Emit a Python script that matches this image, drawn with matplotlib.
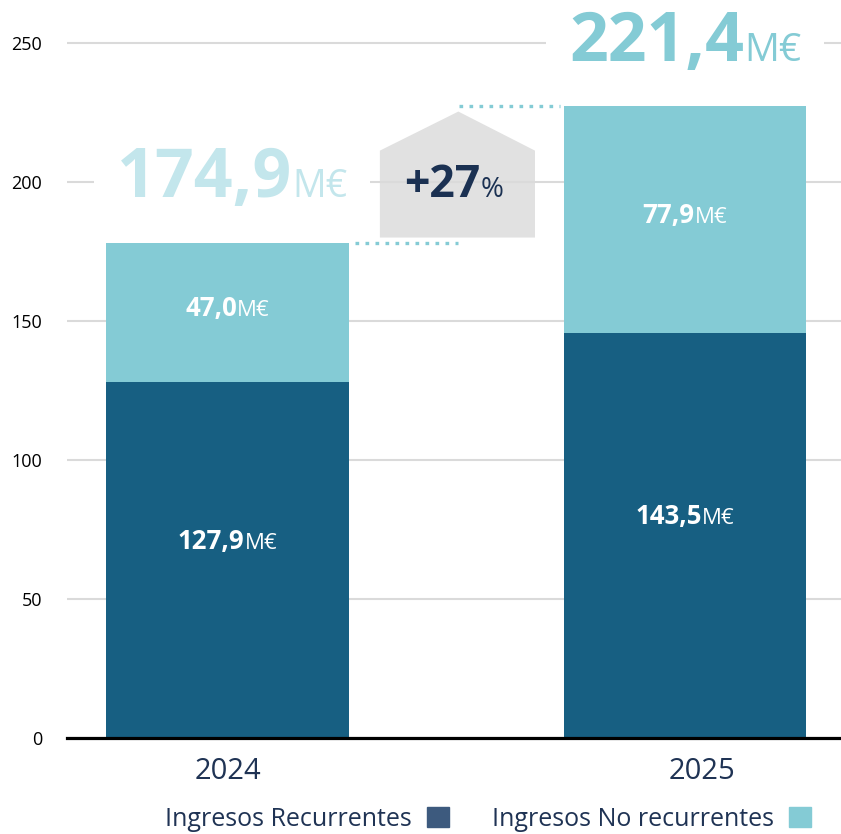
import matplotlib
matplotlib.use('Agg')
import matplotlib.pyplot as plt
from matplotlib.patches import Polygon, Rectangle, Patch
from matplotlib.transforms import Bbox, IdentityTransform, ScaledTranslation

plt.rcParams['font.family'] = ['Open Sans', 'DejaVu Sans']

# data
years = ['2024', '2025']
recurrentes = [128.0, 145.6]
no_recurrentes = [49.9, 81.6]
lbl_rec = ['127,9', '143,5']
lbl_norec = ['47,0', '77,9']
lbl_total = ['174,9', '221,4']
growth = '+27'

DARK = '#175F82'
LIGHT = '#84CBD5'
NAVY = '#1B3152'
PALE = '#C3E6EC'

fig = plt.figure(figsize=(8.41, 8.34), dpi=100)
ax = fig.add_axes([67 / 841, 96 / 834, 1 - 67 / 841, 738 / 834])

x = [0, 1]
w = 0.531
totals = [a + b for a, b in zip(recurrentes, no_recurrentes)]
ax.bar(x, recurrentes, width=w, color=DARK, zorder=2)
ax.bar(x, no_recurrentes, bottom=recurrentes, width=w, color=LIGHT, zorder=2)
ax.set_xlim(-0.351, 1.341)
ax.set_ylim(0, 265.3)

ax.set_yticks([0, 50, 100, 150, 200, 250])
ax.yaxis.grid(True, color='#DADADA', lw=1.5)
ax.set_axisbelow(True)
ax.tick_params(axis='y', length=0, pad=18, labelsize=13, labelcolor='black')
ax.set_xticks(x, years)
ax.tick_params(axis='x', length=0, pad=14, labelsize=21, labelcolor='#1F3354')
# the 2025 label sits a bit right of its bar in the original
lab = ax.get_xticklabels()[1]
lab.set_transform(lab.get_transform() + ScaledTranslation(0.17, 0, fig.dpi_scale_trans))
for s in ['left', 'top', 'right']:
    ax.spines[s].set_visible(False)
ax.spines['bottom'].set_linewidth(2.3)
ax.spines['bottom'].set_zorder(5)

# grey "house" arrow between the bars
hx0, hx1 = 0.333, 0.672
hb = totals[0] + 2
ht = totals[1] - 2
hs = hb + 0.69 * (ht - hb)
house = Polygon([(hx0, hb), (hx1, hb), (hx1, hs), ((hx0 + hx1) / 2 + 0.002, ht),
                 (hx0, hs)], closed=True, facecolor='#E1E1E1', edgecolor='none',
                zorder=0.3)
ax.add_patch(house)

# dotted connectors
dots = dict(color=LIGHT, lw=2.4, linestyle=(0, (1.1, 1.9)), zorder=3)
ax.plot([w / 2 + 0.013, 0.504], [totals[0], totals[0]], **dots)
ax.plot([0.507, 1 - w / 2 - 0.008], [totals[1], totals[1]], **dots)

pairs = []


def label(xc, y, num, unit, size_n, size_u, color, boxed=False):
    t1 = ax.text(xc, y, num, ha='right', va='baseline', fontsize=size_n,
                 fontweight='bold', color=color, zorder=4)
    t2 = ax.text(xc, y, unit, ha='left', va='baseline', fontsize=size_u,
                 color=color, zorder=4)
    pairs.append((t1, t2, xc, y, boxed))


for i in range(2):
    mid_b = recurrentes[i] / 2 + 7.5
    label(x[i], mid_b - 3.4, lbl_rec[i], 'M€', 18.5, 16, 'white')
    mid_t = recurrentes[i] + no_recurrentes[i] / 2 + 2
    label(x[i], mid_t - 3.4, lbl_norec[i], 'M€', 18.5, 16, 'white')

label(0.01, 194.5, lbl_total[0], 'M€', 49, 27, PALE, boxed=True)
label(1.0, 243.2, lbl_total[1], 'M€', 49, 28, LIGHT, boxed=True)
label(0.495, 194.5, growth, '%', 32, 20, NAVY)

fig.canvas.draw()
r = fig.canvas.get_renderer()
px_per_x = ax.transData.transform((1, 0))[0] - ax.transData.transform((0, 0))[0]
for t1, t2, xc, y, boxed in pairs:
    w1 = t1.get_window_extent(r).width
    w2 = t2.get_window_extent(r).width
    dx = (w1 - w2) / 2 / px_per_x
    t1.set_position((xc + dx, y))
    t2.set_position((xc + dx, y))
    if boxed:
        bb = Bbox.union([t1.get_window_extent(r), t2.get_window_extent(r)])
        pad = 23
        rect = Rectangle((bb.x0 - pad, bb.y0 - pad), bb.width + 2 * pad,
                         bb.height + 2 * pad, transform=IdentityTransform(),
                         facecolor='white', edgecolor='none', zorder=0.8)
        ax.add_artist(rect)

handles = [Patch(color='#3D5A7E', label='Ingresos Recurrentes'),
           Patch(color=LIGHT, label='Ingresos No recurrentes')]
leg = fig.legend(handles=handles, loc='center', bbox_to_anchor=(488 / 841, 1 - 819 / 834),
                 ncol=2, frameon=False, markerfirst=False, fontsize=18,
                 handlelength=0.88, handleheight=0.88, handletextpad=0.6,
                 columnspacing=1.7)
for t in leg.get_texts():
    t.set_color('#1F3354')

fig.savefig('out.png', dpi=100)
